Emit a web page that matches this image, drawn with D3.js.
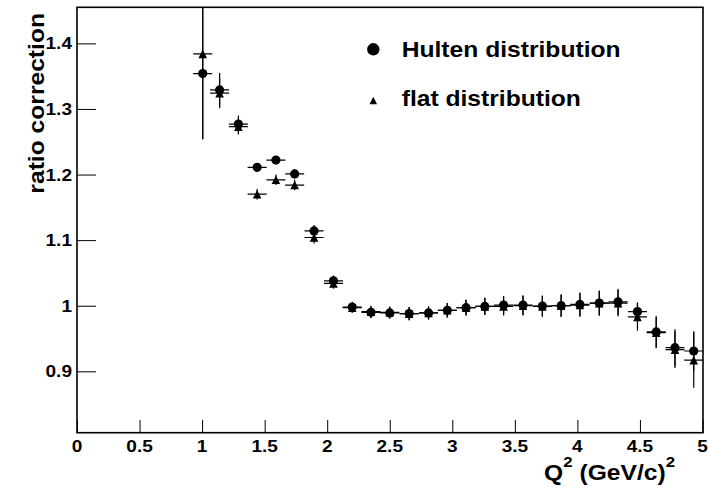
<!DOCTYPE html>
<html>
<head>
<meta charset="utf-8">
<script src="https://cdn.jsdelivr.net/npm/d3@7"></script>
<style>
  html, body { margin: 0; padding: 0; background: #fff; }
  svg { display: block; }
  text { font-family: "Liberation Sans", Arial, Helvetica, sans-serif; font-weight: bold; fill: #000; }
</style>
</head>
<body>
<svg id="chart" width="708" height="487"></svg>
<script>
// Bin centres in Q^2 (GeV/c)^2, and half bin width
const q2 = [1.005, 1.14, 1.29, 1.44, 1.59, 1.74, 1.895, 2.05, 2.2, 2.35, 2.5, 2.655, 2.81, 2.96,
            3.11, 3.26, 3.41, 3.565, 3.72, 3.87, 4.02, 4.175, 4.325, 4.48, 4.63, 4.78, 4.93];
const q2HalfBin = 0.076;

// Ratio correction with the Hulten distribution
const hulten = [1.354, 1.329, 1.277, 1.211, 1.222, 1.201, 1.114, 1.038, 0.998, 0.990, 0.989, 0.988, 0.989, 0.993,
                0.997, 0.999, 1.001, 1.001, 0.9995, 1.000, 1.002, 1.004, 1.006, 0.991, 0.960, 0.936, 0.931];
const hultenErr = [0.100, 0.026, 0.013, 0.006, 0.006, 0.007, 0.009, 0.008, 0.008, 0.009, 0.009, 0.010, 0.010, 0.011,
                   0.012, 0.013, 0.014, 0.015, 0.016, 0.017, 0.018, 0.019, 0.020, 0.014, 0.024, 0.028, 0.030];

// Ratio correction with a flat distribution
const flat = [1.384, 1.324, 1.273, 1.170, 1.192, 1.184, 1.104, 1.034, 0.997, 0.991, 0.990, 0.988, 0.989, 0.993,
              0.997, 0.999, 0.999, 1.000, 0.999, 1.000, 1.001, 1.004, 1.004, 0.983, 0.959, 0.933, 0.917];
const flatErr = [0.130, 0.023, 0.012, 0.008, 0.008, 0.008, 0.009, 0.008, 0.008, 0.009, 0.009, 0.010, 0.010, 0.011,
                 0.012, 0.013, 0.014, 0.015, 0.016, 0.017, 0.018, 0.019, 0.020, 0.021, 0.024, 0.028, 0.042];

// Axis ticks and labels
const xTicks = [0, 0.5, 1, 1.5, 2, 2.5, 3, 3.5, 4, 4.5, 5];
const xTickLabels = ["0", "0.5", "1", "1.5", "2", "2.5", "3", "3.5", "4", "4.5", "5"];
const yTicks = [0.9, 1.0, 1.1, 1.2, 1.3, 1.4];
const yTickLabels = ["0.9", "1", "1.1", "1.2", "1.3", "1.4"];
const legendLabels = ["Hulten distribution", "flat distribution"];

const xDomain = [0, 5];
const yDomain = [0.8064, 1.455];

const svg = d3.select("#chart");
const L = 77, R = 702.5, T = 7.3, B = 432.7;
const SX = 1.12; // horizontal glyph stretch

const x = d3.scaleLinear().domain(xDomain).range([L, R]);
const y = d3.scaleLinear().domain(yDomain).range([B, T]);

function label(g, px, py, str, size, anchor) {
  return g.append("text")
    .attr("transform", `translate(${px},${py}) scale(${SX},1)`)
    .attr("text-anchor", anchor)
    .attr("font-size", size)
    .text(str);
}

// Minor tick positions
const xMinor = d3.range(0, 51).map(i => i / 10).filter(v => Math.abs(v * 2 - Math.round(v * 2)) > 1e-6);
const yMinor = d3.range(41, 73).map(i => i / 50).filter(v => v > yDomain[0] && v < yDomain[1] && Math.abs(v * 10 - Math.round(v * 10)) > 1e-6);

// X axis
const gx = svg.append("g").attr("transform", `translate(0,${B})`);
gx.call(d3.axisBottom(x).tickValues(xMinor).tickFormat("").tickSizeInner(-6.5).tickSizeOuter(0));
gx.call(d3.axisBottom(x).tickValues(xTicks).tickFormat("").tickSizeInner(-12.7).tickSizeOuter(0));
gx.selectAll("path.domain").remove();
gx.selectAll("line").attr("stroke", "#000").attr("stroke-width", 1);
xTicks.forEach((v, i) => label(svg, x(v), 451.7, xTickLabels[i], 17, "middle"));

// Y axis
const gy = svg.append("g").attr("transform", `translate(${L},0)`);
gy.call(d3.axisLeft(y).tickValues(yMinor).tickFormat("").tickSizeInner(-9.5).tickSizeOuter(0));
gy.call(d3.axisLeft(y).tickValues(yTicks).tickFormat("").tickSizeInner(-19).tickSizeOuter(0));
gy.selectAll("path.domain").remove();
gy.selectAll("line").attr("stroke", "#000").attr("stroke-width", 1);
yTicks.forEach((v, i) => label(svg, 72, y(v) + 6.1, yTickLabels[i], 17, "end"));

// Frame
svg.append("rect")
  .attr("x", L).attr("y", T).attr("width", 703 - L).attr("height", B - T)
  .attr("fill", "none").attr("stroke", "#000").attr("stroke-width", 1.6);

// Axis titles
label(svg, 675, 479.5, "", 22, "end").call(t => {
  t.append("tspan").text("Q");
  t.append("tspan").attr("font-size", 15).attr("dy", -13).text("2");
  t.append("tspan").attr("dy", 13).text(" (GeV/c)");
  t.append("tspan").attr("font-size", 15).attr("dy", -13).text("2");
});
svg.append("text")
  .attr("transform", `translate(44,13) rotate(-90) scale(${SX},1)`)
  .attr("text-anchor", "end")
  .attr("font-size", 22)
  .text("ratio correction");

// Data
svg.append("clipPath").attr("id", "plotClip")
  .append("rect").attr("x", L).attr("y", T).attr("width", 703 - L).attr("height", B - T);
const plot = svg.append("g").attr("clip-path", "url(#plotClip)");

const series = [
  { vals: hulten, errs: hultenErr },
  { vals: flat, errs: flatErr }
];

// Error bars
series.forEach(s => {
  const g = plot.append("g").attr("stroke", "#000").attr("stroke-width", 1.2);
  g.selectAll("line.h").data(q2).join("line").attr("class", "h")
    .attr("x1", (d) => x(d - q2HalfBin)).attr("x2", (d) => x(d + q2HalfBin))
    .attr("y1", (d, i) => y(s.vals[i])).attr("y2", (d, i) => y(s.vals[i]));
  g.selectAll("line.v").data(q2).join("line").attr("class", "v")
    .attr("x1", d => x(d)).attr("x2", d => x(d))
    .attr("y1", (d, i) => y(s.vals[i] - s.errs[i])).attr("y2", (d, i) => y(s.vals[i] + s.errs[i]));
});

function triPath(cx, cy, h) {
  return `M${cx - h},${cy + h}L${cx + h},${cy + h}L${cx},${cy - h}Z`;
}

// Markers
plot.append("g").selectAll("circle").data(q2).join("circle")
  .attr("cx", d => x(d)).attr("cy", (d, i) => y(hulten[i])).attr("r", 4.6).attr("fill", "#000");
plot.append("g").selectAll("path").data(q2).join("path")
  .attr("d", (d, i) => triPath(x(d), y(flat[i]), 4.3)).attr("fill", "#000");

// Legend
svg.append("circle").attr("cx", 373.3).attr("cy", 49.3).attr("r", 6.2).attr("fill", "#000");
svg.append("path").attr("d", triPath(373.3, 100.5, 3.8)).attr("fill", "#000");
label(svg, 401.7, 57.3, legendLabels[0], 22, "start");
label(svg, 401.7, 106, legendLabels[1], 22, "start");
</script>
</body>
</html>
